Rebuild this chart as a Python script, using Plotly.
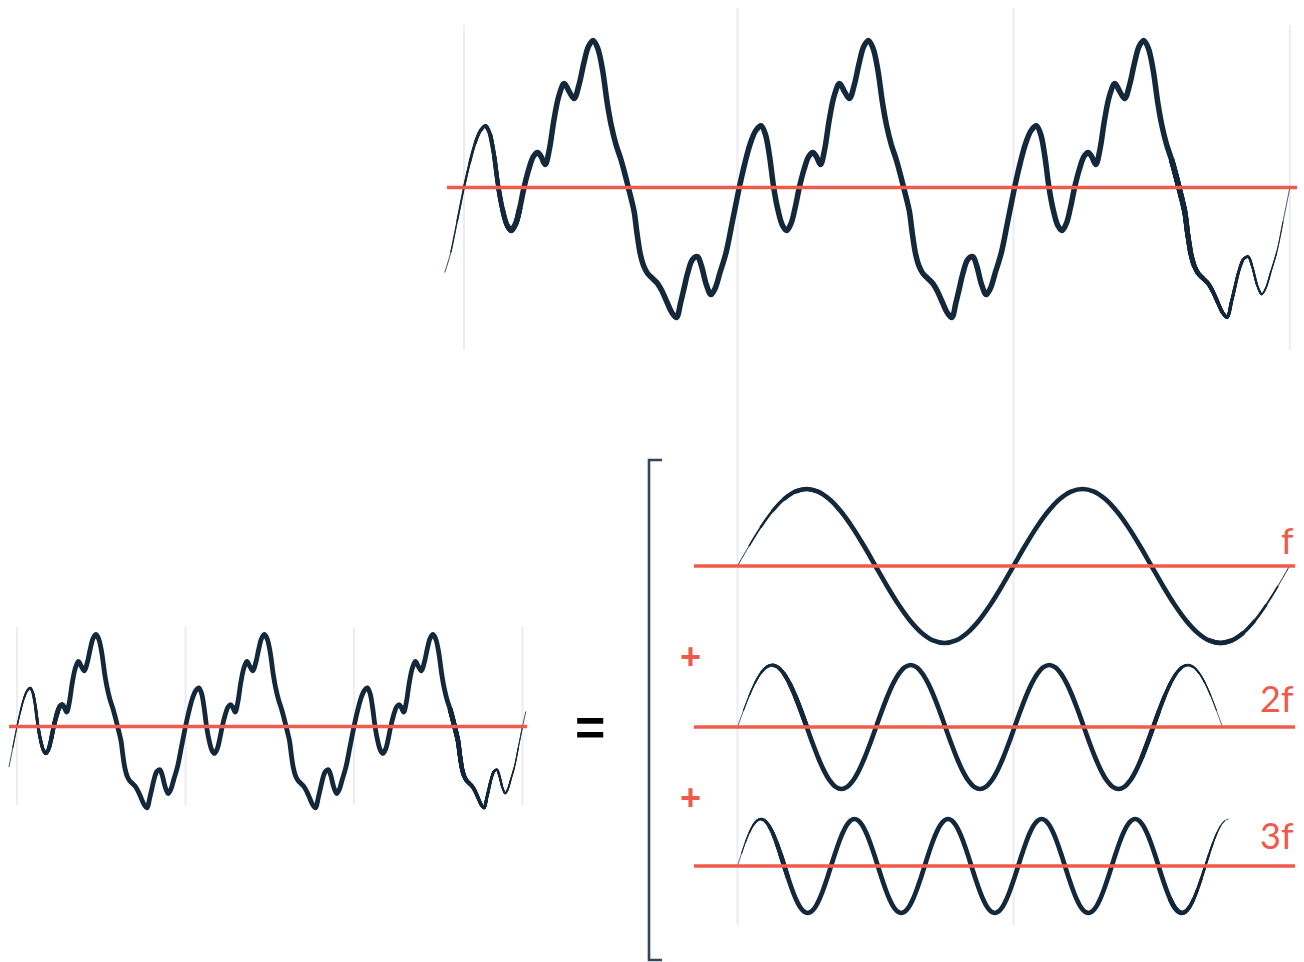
import plotly.graph_objects as go

W, H = 1304, 962

# ---------------- data ----------------
# one period of the composite waveform: phase (fraction of the period) and height (px, top panel scale)
comp_phase = [0.000, 0.020, 0.040, 0.060, 0.079, 0.095, 0.110, 0.125, 0.140, 0.157,
              0.172, 0.188, 0.203, 0.218, 0.235, 0.252, 0.267, 0.280, 0.295, 0.310,
              0.327, 0.345, 0.364, 0.382, 0.400, 0.418, 0.435, 0.452, 0.469, 0.486,
              0.503, 0.520, 0.535, 0.552, 0.570, 0.585, 0.597, 0.608, 0.618, 0.628,
              0.640, 0.652, 0.667, 0.685, 0.703, 0.720, 0.738, 0.755, 0.772, 0.787,
              0.800, 0.812, 0.830, 0.848, 0.862, 0.880, 0.897, 0.912, 0.930, 0.952, 0.975]
comp_value = [0, 24, 44, 57, 61.7, 53, 31, 0, -22, -38,
              -43, -36, -20, 0, 18, 31, 35, 31, 23, 38,
              68, 92, 104, 96, 89, 103, 124, 141, 147, 139,
              118, 85, 62, 43, 28, 13, 0, -12, -24, -45,
              -66, -78, -86, -91, -96, -104, -115, -125, -130, -115,
              -100, -86, -72, -69, -78, -97, -107, -101, -85, -65, -34]

# one cycle of a pure sine component, sampled every 1/24 of its period (normalised height)
sine_cycle = [0, 0.259, 0.5, 0.707, 0.866, 0.966, 1, 0.966, 0.866, 0.707, 0.5, 0.259,
              0, -0.259, -0.5, -0.707, -0.866, -0.966, -1, -0.966, -0.866, -0.707, -0.5, -0.259]

harm_labels = ["f", "2f", "3f"]
harm_amplitude = [77, 62, 47]        # px
harm_period = [1.0, 0.502, 0.339]    # in periods of f
harm_cycles = [2, 3.5, 5.25]         # number of its own cycles drawn

# extents (in each panel's own units)
top_span = [-0.07, 3.0]
bl_span = [-0.05, 3.025]
baseline_top = [-0.062, 3.026]
baseline_bl = [-0.047, 3.027]
baseline_br = [-0.158, 2.02]
grid_top = [0, 3]
grid_shared = [0, 1]
grid_bl = [0, 1, 2, 3]

NAVY = "#14283C"
RED = "#F05A4B"
GRID = "#ECECF2"
BRACKET = "#34465A"

# ---------------- helpers ----------------
layout_axes = {}


def set_axes(idx, x0_px, xscale, xdom_px, y0_px, yscale, ydom_px):
    xr = [(xdom_px[0] - x0_px) / xscale, (xdom_px[1] - x0_px) / xscale]
    yr = [(y0_px - ydom_px[1]) / yscale, (y0_px - ydom_px[0]) / yscale]
    xd = [xdom_px[0] / W, xdom_px[1] / W]
    yd = [1 - ydom_px[1] / H, 1 - ydom_px[0] / H]
    s = "" if idx == 1 else str(idx)
    layout_axes["xaxis" + s] = dict(domain=xd, range=xr, visible=False, anchor="y" + s, fixedrange=True)
    layout_axes["yaxis" + s] = dict(domain=yd, range=yr, visible=False, anchor="x" + s, fixedrange=True)


set_axes(1, 464, 275.3, [420, 1304], 187.5, 1.0, [0, 380])
set_axes(2, 17, 168.5, [0, 560], 726.5, 0.626, [590, 840])
set_axes(3, 737.5, 276, [660, 1304], 566, 1.0, [470, 660])
set_axes(4, 737.5, 276, [660, 1304], 727, 1.0, [640, 810])
set_axes(5, 737.5, 276, [660, 1304], 866, 1.0, [800, 930])

fig = go.Figure()


def composite(span):
    xs, ys = [], []
    for k in range(-1, 4):
        for p, v in zip(comp_phase, comp_value):
            x = p + k
            if span[0] - 1e-9 <= x <= span[1] + 1e-9:
                xs.append(x)
                ys.append(v)
    return xs, ys


def harmonic(i):
    n = int(round(harm_cycles[i] * len(sine_cycle)))
    xs = [j / len(sine_cycle) * harm_period[i] for j in range(n + 1)]
    ys = [harm_amplitude[i] * sine_cycle[j % len(sine_cycle)] for j in range(n + 1)]
    return xs, ys


def add_tapered(xs, ys, ax, w_full, w_min, s0, s1, e0, e1):
    xa = "x" if ax == 1 else "x%d" % ax
    ya = "y" if ax == 1 else "y%d" % ax

    def width(x):
        w = w_full
        if x < s1:
            w = min(w, w_min + (w_full - w_min) * max(0.0, x - s0) / (s1 - s0))
        if x > e0:
            w = min(w, w_min + (w_full - w_min) * max(0.0, e1 - x) / (e1 - e0))
        return w

    n = len(xs)
    seg_w = [width((xs[i] + xs[i + 1]) / 2) for i in range(n - 1)]
    full = [i for i in range(n - 1) if seg_w[i] >= w_full - 1e-9]
    a, b = full[0], full[-1] + 1

    def tr(i0, i1, w):
        fig.add_trace(go.Scatter(x=xs[i0:i1 + 1], y=ys[i0:i1 + 1], mode="lines",
                                 line=dict(color=NAVY, width=w, shape="spline"),
                                 xaxis=xa, yaxis=ya, hoverinfo="skip", showlegend=False))

    for i in range(0, a):
        tr(i, min(a + 2, n - 1), seg_w[i])
    tr(a, b, w_full)
    for i in range(b, n - 1):
        tr(max(b - 2, 0), i + 1, seg_w[i])


def add_baseline(span, ax):
    xa = "x" if ax == 1 else "x%d" % ax
    ya = "y" if ax == 1 else "y%d" % ax
    fig.add_trace(go.Scatter(x=span, y=[0, 0], mode="lines",
                             line=dict(color=RED, width=3.5),
                             xaxis=xa, yaxis=ya, hoverinfo="skip", showlegend=False))


# ---------------- grid lines ----------------
shapes = []
for g in grid_top:
    shapes.append(dict(type="line", xref="x", yref="y", x0=g, x1=g, y0=-162.5, y1=162.5,
                       line=dict(color=GRID, width=2), layer="below"))
for g in grid_shared:
    shapes.append(dict(type="line", xref="x3", yref="paper", x0=g, x1=g,
                       y0=1 - 925 / H, y1=1 - 8 / H,
                       line=dict(color=GRID, width=2), layer="below"))
for g in grid_bl:
    shapes.append(dict(type="line", xref="x2", yref="y2", x0=g, x1=g, y0=-125.4, y1=159,
                       line=dict(color=GRID, width=2), layer="below"))

# bracket
bx0, bx1 = 649 / W, 662 / W
by0, by1 = 1 - 460 / H, 1 - 960 / H
shapes.append(dict(type="path", xref="paper", yref="paper",
                   path="M %f %f L %f %f L %f %f L %f %f" % (bx1, by0, bx0, by0, bx0, by1, bx1, by1),
                   line=dict(color=BRACKET, width=2.6)))

# ---------------- curves ----------------
xs, ys = composite(top_span)
add_tapered(xs, ys, 1, 5.5, 0.6, -0.07, 0.17, 2.6, 3.0)
add_baseline(baseline_top, 1)

xs, ys = composite(bl_span)
add_tapered(xs, ys, 2, 4.8, 0.6, -0.05, 0.25, 2.6, 3.03)
add_baseline(baseline_bl, 2)

tapers = [(0.0, 0.22, 1.8, 2.0), (0.0, 0.2, 1.5, 1.757), (0.0, 0.16, 1.6, 1.78)]
for i in range(3):
    xs, ys = harmonic(i)
    s0, s1, e0, e1 = tapers[i]
    add_tapered(xs, ys, 3 + i, 4.7, 0.5, s0, s1, e0, e1)
    add_baseline(baseline_br, 3 + i)

# ---------------- text ----------------
annotations = []
label_y = [540, 698, 835]
for lab, yy in zip(harm_labels, label_y):
    annotations.append(dict(text=lab, xref="paper", yref="paper", x=1296 / W, y=1 - yy / H,
                            xanchor="right", yanchor="middle", showarrow=False,
                            font=dict(family="Lato", size=36, color=RED, weight=400)))
for yy in [656, 797]:
    annotations.append(dict(text="<b>+</b>", xref="paper", yref="paper", x=690 / W, y=1 - yy / H,
                            xanchor="center", yanchor="middle", showarrow=False,
                            font=dict(family="Liberation Sans", size=36, color=RED)))
annotations.append(dict(text="<b>=</b>", xref="paper", yref="paper", x=590 / W, y=1 - 727 / H,
                        xanchor="center", yanchor="middle", showarrow=False,
                        font=dict(family="Liberation Sans", size=52, color="#000000")))

fig.update_layout(width=W, height=H, margin=dict(l=0, r=0, t=0, b=0),
                  paper_bgcolor="white", plot_bgcolor="rgba(0,0,0,0)",
                  showlegend=False, shapes=shapes, annotations=annotations, **layout_axes)

fig.write_html("out.html", config={"displayModeBar": False},
               post_script="document.body.style.margin='0';document.body.style.overflow='hidden';")
